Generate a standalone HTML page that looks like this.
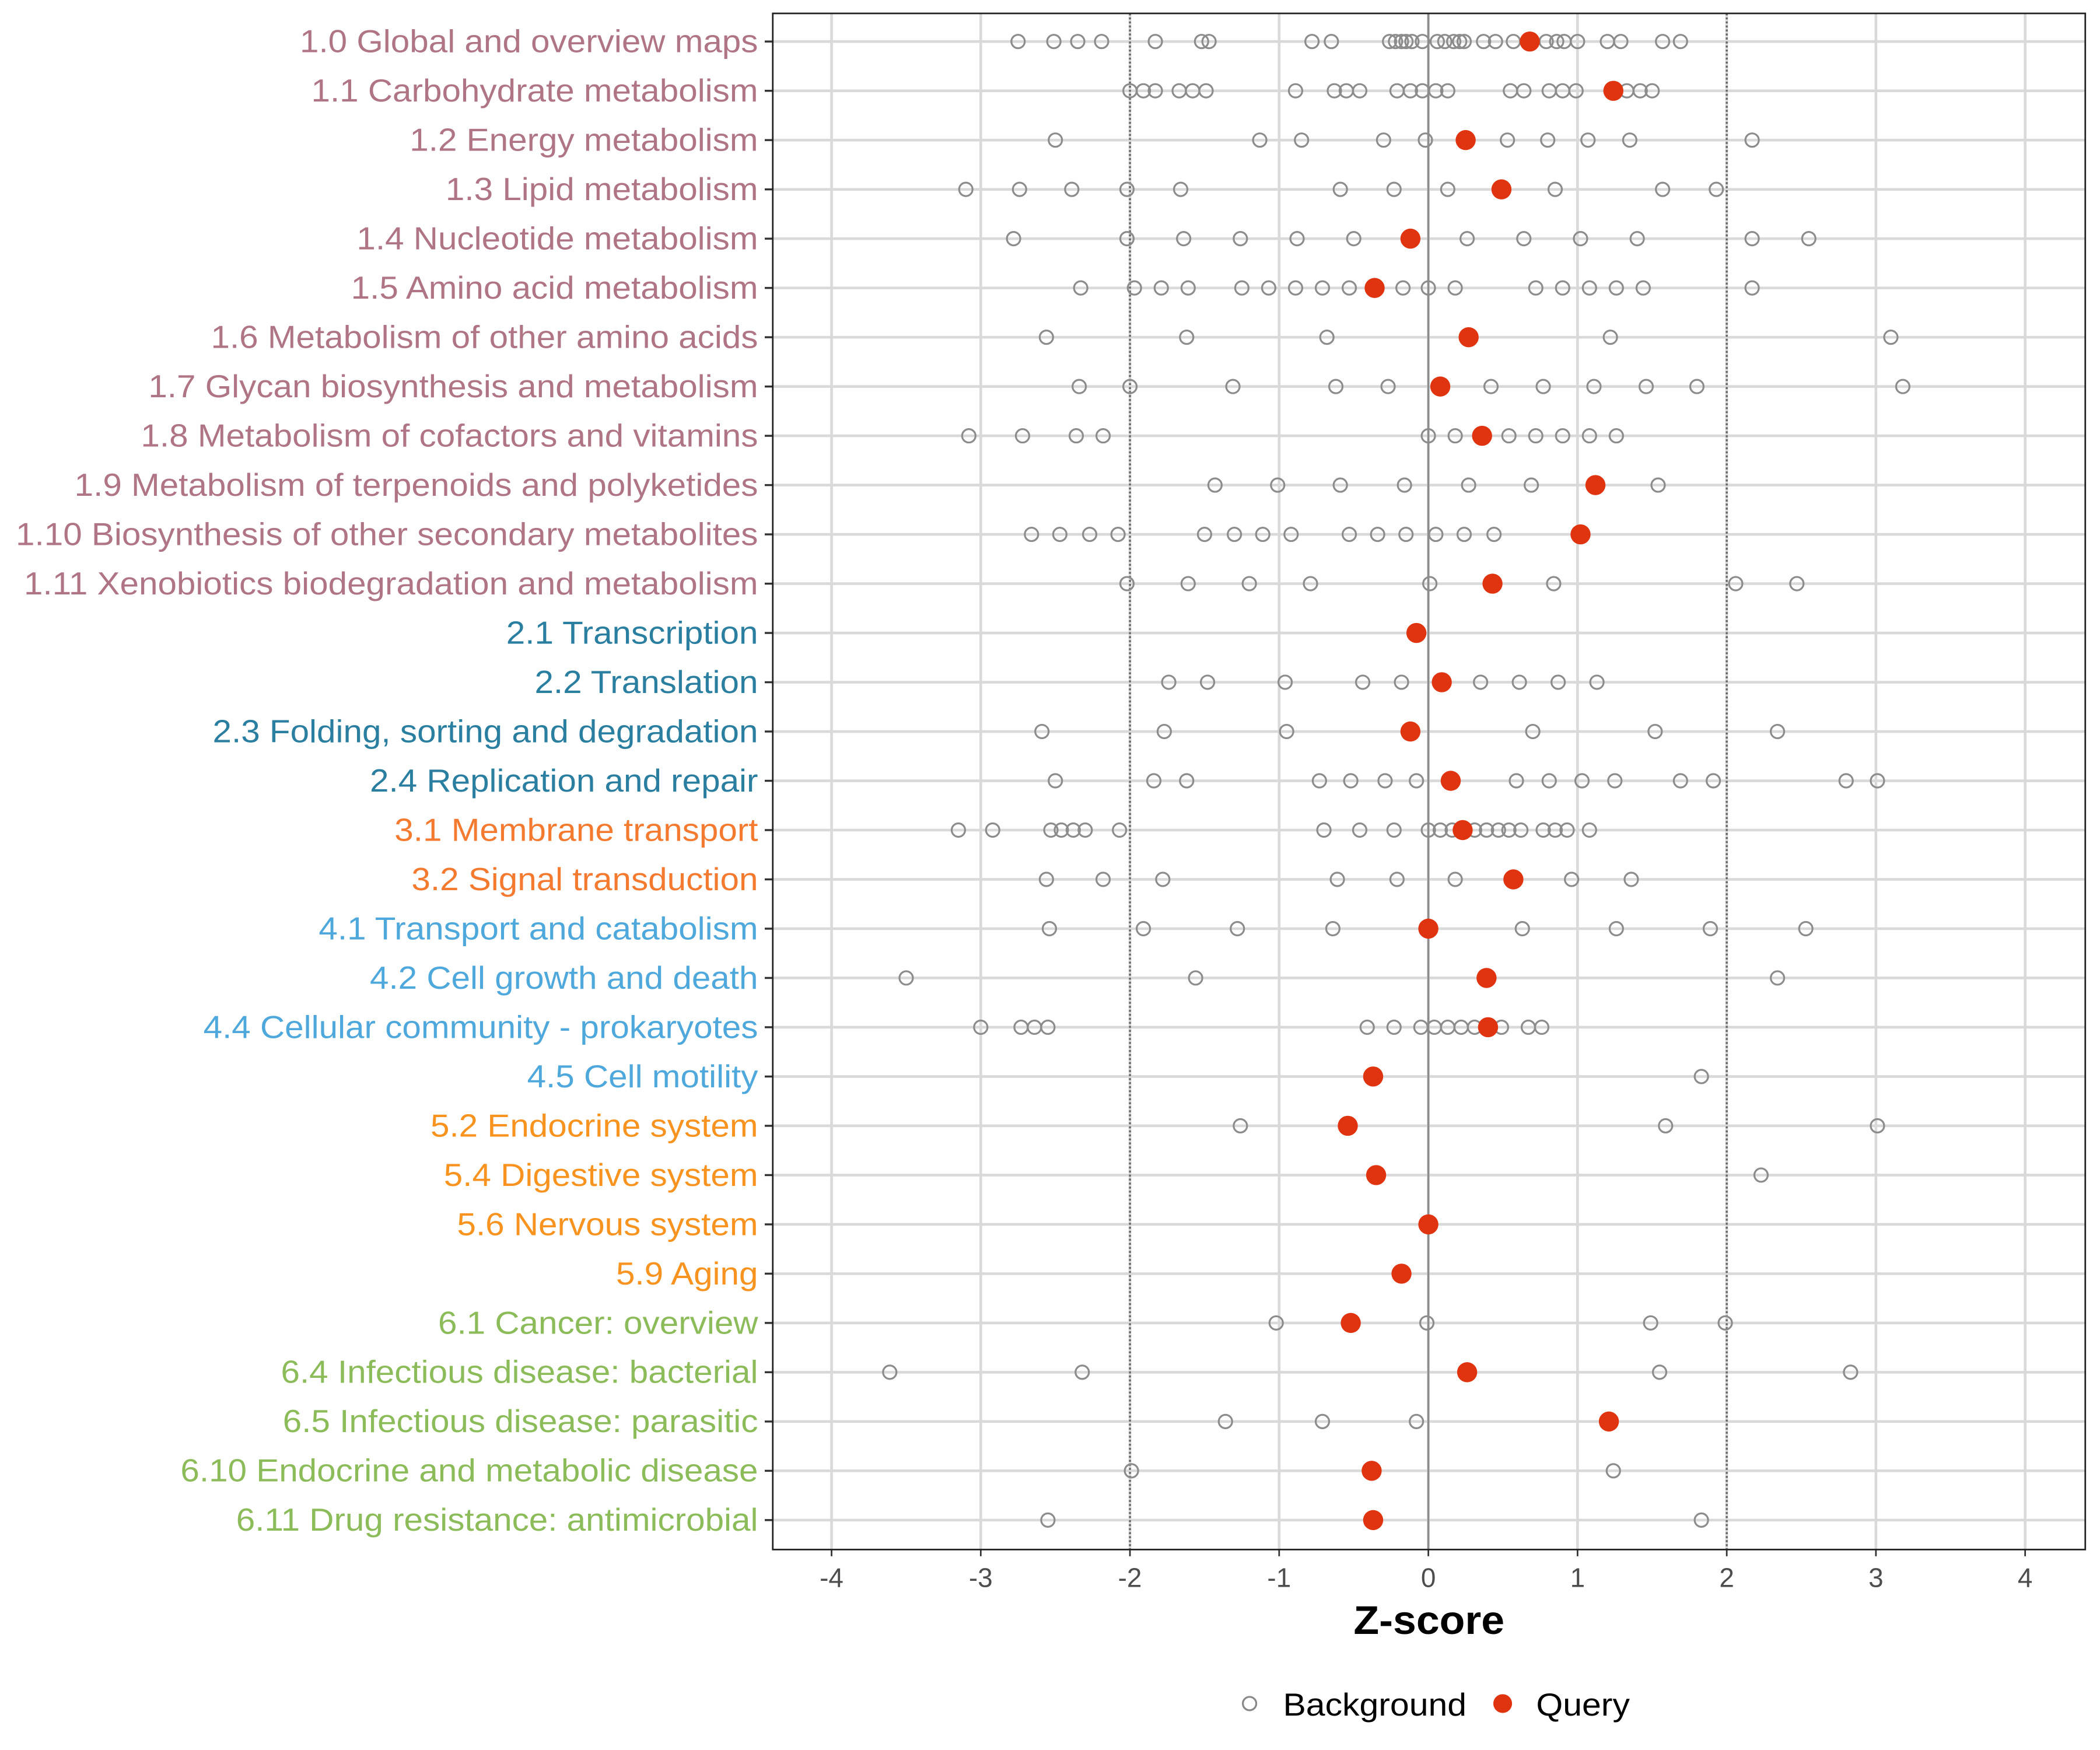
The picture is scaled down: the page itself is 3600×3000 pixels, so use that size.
<!DOCTYPE html>
<html><head><meta charset="utf-8">
<style>html,body{margin:0;padding:0;background:#fff;}svg{display:block;}</style>
</head><body>
<svg id="chart" xmlns="http://www.w3.org/2000/svg" width="3600" height="3000" viewBox="0 0 1568 1306.67" font-family="'Liberation Sans', sans-serif">
<rect x="0" y="0" width="1568" height="1306.67" fill="#fff"/>
<g id="grid"></g><g id="marks"></g><g id="labels"></g>
<rect x="577" y="10" width="980" height="1147" fill="none" stroke="#222" stroke-width="1.2"/>
<text x="1067" y="1220" font-size="30" font-weight="bold" text-anchor="middle" fill="#000" transform="translate(1067 0) scale(1.04 1) translate(-1067 0)">Z-score</text>
<g>
<circle cx="933" cy="1272" r="5" fill="none" stroke="#888" stroke-width="1.4"/>
<text x="958" y="1281" font-size="24" fill="#000" transform="translate(958 0) scale(1.07 1) translate(-958 0)">Background</text>
<circle cx="1122" cy="1272" r="7" fill="#e0330f"/>
<text x="1147" y="1281" font-size="24" fill="#000" transform="translate(1147 0) scale(1.07 1) translate(-1147 0)">Query</text>
</g>
</svg>
<script>
const categories = ["1.0 Global and overview maps","1.1 Carbohydrate metabolism","1.2 Energy metabolism","1.3 Lipid metabolism","1.4 Nucleotide metabolism","1.5 Amino acid metabolism","1.6 Metabolism of other amino acids","1.7 Glycan biosynthesis and metabolism","1.8 Metabolism of cofactors and vitamins","1.9 Metabolism of terpenoids and polyketides","1.10 Biosynthesis of other secondary metabolites","1.11 Xenobiotics biodegradation and metabolism","2.1 Transcription","2.2 Translation","2.3 Folding, sorting and degradation","2.4 Replication and repair","3.1 Membrane transport","3.2 Signal transduction","4.1 Transport and catabolism","4.2 Cell growth and death","4.4 Cellular community - prokaryotes","4.5 Cell motility","5.2 Endocrine system","5.4 Digestive system","5.6 Nervous system","5.9 Aging","6.1 Cancer: overview","6.4 Infectious disease: bacterial","6.5 Infectious disease: parasitic","6.10 Endocrine and metabolic disease","6.11 Drug resistance: antimicrobial"];
const groups = [1,1,1,1,1,1,1,1,1,1,1,1,2,2,2,2,3,3,4,4,4,4,5,5,5,5,6,6,6,6,6];
const queryValues = [0.68,1.24,0.25,0.49,-0.12,-0.36,0.27,0.08,0.36,1.12,1.02,0.43,-0.08,0.09,-0.12,0.15,0.23,0.57,0.0,0.39,0.4,-0.37,-0.54,-0.35,0.0,-0.18,-0.52,0.26,1.21,-0.38,-0.37];
const backgroundValues = [
[-2.75,-2.51,-2.35,-2.19,-1.83,-1.52,-1.47,-0.78,-0.65,-0.26,-0.22,-0.18,-0.15,-0.11,-0.04,0.06,0.11,0.17,0.21,0.24,0.37,0.45,0.57,0.79,0.86,0.91,1.0,1.2,1.29,1.57,1.69],
[-2.0,-1.91,-1.83,-1.67,-1.58,-1.49,-0.89,-0.63,-0.55,-0.46,-0.21,-0.12,-0.04,0.05,0.13,0.55,0.64,0.81,0.9,0.99,1.33,1.42,1.5],
[-2.5,-1.13,-0.85,-0.3,-0.02,0.53,0.8,1.07,1.35,2.17],
[-3.1,-2.74,-2.39,-2.02,-1.66,-0.59,-0.23,0.13,0.85,1.57,1.93],
[-2.78,-2.02,-1.64,-1.26,-0.88,-0.5,0.26,0.64,1.02,1.4,2.17,2.55],
[-2.33,-1.97,-1.79,-1.61,-1.25,-1.07,-0.89,-0.71,-0.53,-0.17,0.0,0.18,0.72,0.9,1.08,1.26,1.44,2.17],
[-2.56,-1.62,-0.68,1.22,3.1],
[-2.34,-2.0,-1.31,-0.62,-0.27,0.42,0.77,1.11,1.46,1.8,3.18],
[-3.08,-2.72,-2.36,-2.18,0.0,0.18,0.54,0.72,0.9,1.08,1.26],
[-1.43,-1.01,-0.59,-0.16,0.27,0.69,1.54],
[-2.66,-2.47,-2.27,-2.08,-1.5,-1.3,-1.11,-0.92,-0.53,-0.34,-0.15,0.05,0.24,0.44],
[-2.02,-1.61,-1.2,-0.79,0.01,0.84,2.06,2.47],
[],
[-1.74,-1.48,-0.96,-0.44,-0.18,0.35,0.61,0.87,1.13],
[-2.59,-1.77,-0.95,0.7,1.52,2.34],
[-2.5,-1.84,-1.62,-0.73,-0.52,-0.29,-0.08,0.59,0.81,1.03,1.25,1.69,1.91,2.8,3.01],
[-3.15,-2.92,-2.53,-2.46,-2.38,-2.3,-2.07,-0.7,-0.46,-0.23,0.0,0.08,0.16,0.31,0.39,0.47,0.54,0.62,0.77,0.85,0.93,1.08],
[-2.56,-2.18,-1.78,-0.61,-0.21,0.18,0.96,1.36],
[-2.54,-1.91,-1.28,-0.64,0.63,1.26,1.89,2.53],
[-3.5,-1.56,2.34],
[-3.0,-2.73,-2.64,-2.55,-0.41,-0.23,-0.05,0.04,0.13,0.22,0.31,0.49,0.67,0.76],
[1.83],
[-1.26,1.59,3.01],
[2.23],
[],
[],
[-1.02,-0.01,1.49,1.99],
[-3.61,-2.32,1.55,2.83],
[-1.36,-0.71,-0.08],
[-1.99,1.24],
[-2.55,1.83]
];
const xTicks = [-4,-3,-2,-1,0,1,2,3,4];
const xTickLabels = ["-4","-3","-2","-1","0","1","2","3","4"];
const groupColors = {1:"#b07585",2:"#2a7ea0",3:"#f47a30",4:"#4ea8dc",5:"#f7931e",6:"#8cbb5a"};

const NS = "http://www.w3.org/2000/svg";
const xScale = v => 1066.5 + v * 111.4;
const yScale = i => 31 + i * 36.8;
function mk(tag, attrs, parent){const e=document.createElementNS(NS,tag);for(const k in attrs)e.setAttribute(k,attrs[k]);parent.appendChild(e);return e;}
const grid=document.getElementById('grid'), marks=document.getElementById('marks'), labels=document.getElementById('labels');

xTicks.forEach((t,i)=>{
  const l=mk('line',{x1:xScale(t),x2:xScale(t),y1:10,y2:1157,stroke:'#d9d9d9','stroke-width':2},grid);
  
  
  const tk=mk('line',{x1:xScale(t),x2:xScale(t),y1:1157,y2:1162,stroke:'#333','stroke-width':1.2},labels);
  
  
  const tx=mk('text',{x:xScale(t),y:1185,'font-size':20,'text-anchor':'middle',fill:'#4d4d4d'},labels);
  tx.textContent=xTickLabels[i];
  
  
});
categories.forEach((c,i)=>{
  const y=yScale(i);
  const l=mk('line',{x1:577,x2:1557,y1:y,y2:y,stroke:'#d9d9d9','stroke-width':2},grid);
  
  
  const tk=mk('line',{x1:571,x2:577,y1:y,y2:y,stroke:'#333','stroke-width':1.5},labels);
  
  
  const tx=mk('text',{x:566,y:y+8,'font-size':24,'text-anchor':'end',fill:groupColors[groups[i]],transform:`translate(566 0) scale(1.06 1) translate(-566 0)`},labels);
  tx.textContent=c;
  
  
});
const z=mk('line',{x1:xScale(0),x2:xScale(0),y1:10,y2:1157,stroke:'#8c8c8c','stroke-width':1.5},grid);


[-2,2].forEach(v=>{
  const d=mk('line',{x1:xScale(v),x2:xScale(v),y1:10,y2:1157,stroke:'#666','stroke-width':1.5,'stroke-dasharray':'1.5 1.5'},grid);
  
  
});
backgroundValues.forEach((arr,i)=>{
  arr.forEach(v=>{
    const c=mk('circle',{cx:xScale(v),cy:yScale(i),r:5,fill:'none',stroke:'#8c8c8c','stroke-width':1.4},marks);
    
    
  });
});
queryValues.forEach((v,i)=>{
  const c=mk('circle',{cx:xScale(v),cy:yScale(i),r:7.5,fill:'#e0330f'},marks);
  
  
});
</script>
</body></html>
